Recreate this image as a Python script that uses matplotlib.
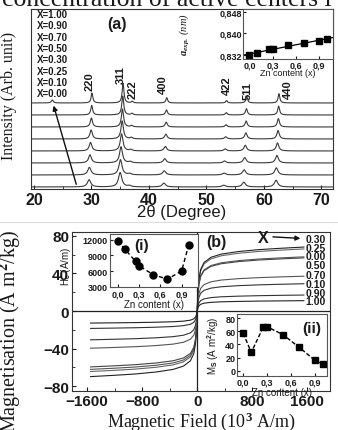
import numpy as np
import matplotlib
matplotlib.use('Agg')
import matplotlib.pyplot as plt
from matplotlib.lines import Line2D

plt.rcParams['font.family'] = 'Liberation Sans'
plt.rcParams['font.weight'] = 'bold'
plt.rcParams['mathtext.fontset'] = 'custom'
plt.rcParams['mathtext.rm'] = 'Liberation Serif:bold'
plt.rcParams['mathtext.bf'] = 'Liberation Serif:bold'
plt.rcParams['mathtext.it'] = 'Liberation Serif:italic'
plt.rcParams['mathtext.sf'] = 'Liberation Sans:bold'

# ---- data: XRD (a) ----
zn = [0.00, 0.10, 0.25, 0.30, 0.50, 0.70, 0.90, 1.00]
zn_labels = ['X=1.00', 'X=0.90', 'X=0.70', 'X=0.50', 'X=0.30', 'X=0.25', 'X=0.10', 'X=0.00']
peak_hkl = ['220', '311', '222', '400', '422', '511', '440']
peak_pos = [30.1, 35.5, 37.1, 43.1, 53.5, 57.0, 62.6]
peak_height = [0.75, 1.5, 0.12, 0.4, 0.18, 0.5, 0.7]
trace_shift = [0.0, -0.05, -0.1, -0.15, -0.25, -0.35, -0.45, -0.5]
trace_width = [0.18, 0.2, 0.22, 0.25, 0.28, 0.3, 0.33, 0.35]
trace_scale = [1.1, 1.05, 1.0, 1.0, 0.95, 0.9, 0.85, 0.8]

# lattice parameter inset
a_exp = [0.8320, 0.8329, 0.8341, 0.8344, 0.8357, 0.8364, 0.8374, 0.8378]

# ---- data: magnetic (b) ----
hc = [11800, 10200, 7850, 7000, 5300, 4450, 6050, 11050]
ms = [57, 28, 66, 67, 55, 36, 16, 10]
ms_pos = [57.6, 29, 66, 68, 56.5, 37, 17, 11]
ms_neg = [-62, -30.6, -64.3, -69.7, -59.4, -39.5, -18.5, -12.8]
h_pts = [0, 10, 25, 50, 100, 200, 350, 600, 900, 1200, 1550]
m_frac = [0, 0.30, 0.50, 0.65, 0.76, 0.84, 0.89, 0.93, 0.96, 0.98, 1.0]
mh_labels = ['0.30', '0.25', '0.00', '0.50', '0.70', '0.10', '0.90', '1.00']
comma_ticks = ['0,0', '0,3', '0,6', '0,9']

W, H = 338, 431
fig = plt.figure(figsize=(3.38, 4.31), dpi=100)


def box(l, t, r, b):
    return [l / W, 1 - b / H, (r - l) / W, (b - t) / H]


ink = '#1a1a1a'

# cut-off caption at the top
fig.text(2 / W, 1 - 6 / H, 'concentration of active centers i', family='Liberation Serif',
         weight='normal', fontsize=18.5, va='baseline', color=ink)
fig.add_artist(Line2D([0, 1], [1 - 223 / H] * 2, color='#dddddd', lw=0.8))

# ---------- panel (a) ----------
ax = fig.add_axes(box(31, 10, 333, 190))
tt = np.linspace(19.5, 72, 2000)
for i in range(len(zn)):
    y = np.zeros_like(tt) + i
    k = 7 - i  # top trace = X=1.00
    for p, h in zip(peak_pos, peak_height):
        w = trace_width[k]
        y += h * trace_scale[k] / (1 + ((tt - p - trace_shift[k]) / w) ** 2)
    if k == 0:
        y += 0.25 / (1 + ((tt - 23.2) / 0.2) ** 2)
    ax.plot(tt, y, color='#3a3a3a', lw=0.8)
ax.set_xlim(19.5, 72)
ax.set_ylim(-0.17, 14.83)
ax.set_yticks([])
ax.set_xticks([20, 30, 40, 50, 60, 70])
ax.set_xticks([25, 35, 45, 55, 65], minor=True)
ax.tick_params(axis='x', which='both', direction='in', labelsize=11.5, pad=2, colors=ink)
ax.tick_params(axis='x', which='major', length=3)
ax.tick_params(axis='x', which='minor', length=2)
ax.set_xlabel('2θ (Degree)', fontsize=12, labelpad=-2, color=ink)
ax.set_ylabel('Intensity (Arb. unit)', family='Liberation Serif', fontsize=11.5, color=ink)
ax.yaxis.set_label_coords(-0.045, 0.52)
for s in ax.spines.values():
    s.set_color('#333333')

for j, lab in enumerate(zn_labels):
    ax.text(20.5, 14.4 - j * 0.94, lab, fontsize=7, va='center', ha='left', color=ink)
ax.annotate('', xy=(23.3, 7.0), xytext=(27.5, 0.0),
            arrowprops=dict(arrowstyle='-|>', color='#111111', lw=1.0, mutation_scale=7))
lab_xy = [(29.76, 8.9), (35.15, 9.4), (37.1, 8.2), (42.5, 8.6), (53.6, 8.5), (57.1, 8.1), (64.2, 8.2)]
for lab, (px, py) in zip(peak_hkl, lab_xy):
    ax.text(px, py, lab, rotation=90, fontsize=8, ha='center', va='center', color=ink)
ax.text(34.5, 13.6, '(a)', fontsize=11.5, ha='center', va='center', color=ink)

# inset lattice parameter
ia = fig.add_axes(box(243.3, 10, 333, 60))
ia.plot(zn, a_exp, 's', color='black', ms=4)
fit = np.polyfit(zn, a_exp, 1)
xf = np.array([-0.08, 1.08])
ia.plot(xf, np.polyval(fit, xf), color='black', lw=0.9)
ia.set_xlim(-0.08, 1.08)
ia.set_ylim(0.8306, 0.849)
ia.set_yticks([0.832, 0.840, 0.848])
ia.set_yticklabels(['0,832', '0,840', '0,848'])
ia.set_xticks([0, 0.3, 0.6, 0.9])
ia.set_xticklabels(comma_ticks)
ia.tick_params(direction='in', labelsize=6.5, length=2, pad=1, colors=ink)
ia.set_xlabel('Zn content (x)', fontsize=6.5, labelpad=-1, color=ink)
ia.set_ylabel(r'$a_{exp.}$ (nm)', family='Liberation Serif', style='italic', weight='normal',
              fontsize=7.5, color=ink)
ia.yaxis.set_label_coords(-0.58, 0.5)
for s in ia.spines.values():
    s.set_color('#555555')

# ---------- panel (b) ----------
bx = fig.add_axes(box(72, 233, 330, 392))
mh_colors = ['#555555', '#333333', '#666666', '#222222', '#444444', '#555555', '#333333', '#222222']
hh = np.array(h_pts, dtype=float)
ff = np.array(m_frac)
for i in range(len(zn)):
    Hs = np.concatenate([-hh[::-1], hh[1:]])
    Ms = np.concatenate([ms_neg[i] * ff[::-1], ms_pos[i] * ff[1:]])
    bx.plot(Hs, Ms, color=mh_colors[i], lw=0.8)
bx.axhline(0, color='#222222', lw=0.9)
bx.axvline(0, color='#222222', lw=0.9)
bx.set_xlim(-1820, 1930)
bx.set_ylim(-85, 84)
bx.set_xticks([-1600, -800, 0, 800, 1600])
bx.set_xticks([-1200, -400, 400, 1200], minor=True)
bx.set_yticks([-80, -40, 0, 40, 80])
bx.set_yticks([-60, -20, 20, 60], minor=True)
bx.tick_params(which='both', direction='in', labelsize=11, colors=ink, pad=2)
bx.tick_params(which='major', length=3)
bx.tick_params(which='minor', length=2)
bx.set_xlabel(r'Magnetic Field (10$^{3}$ A/m)', family='Liberation Serif', fontsize=13,
              labelpad=1, color=ink)
bx.set_ylabel(r'Magnetisation (A m$^{2}$/kg)', family='Liberation Serif', fontsize=14.5, color=ink)
bx.yaxis.set_label_coords(-0.19, 0.38)
for s in bx.spines.values():
    s.set_color('#333333')

lab_y = [76.8, 67.2, 58.7, 49, 38.4, 28.8, 19.2, 10.7]
for lab, yy in zip(mh_labels, lab_y):
    bx.text(1570, yy, lab, fontsize=7.5, va='center', ha='left', color=ink)
bx.text(960, 78.5, 'X', fontsize=11.5, ha='center', va='center', color=ink)
bx.annotate('', xy=(1540, 77), xytext=(1060, 79),
            arrowprops=dict(arrowstyle='-|>', color='#111111', lw=1.0, mutation_scale=7))
bx.text(276, 73.6, '(b)', fontsize=11.5, ha='center', va='center', color=ink)

# inset (i) coercivity
i1 = fig.add_axes(box(110, 235, 198, 288))
i1.plot(zn, hc, 'o--', color='black', ms=5, lw=1.0, dashes=(3, 2))
i1.set_xlim(-0.11, 1.13)
i1.set_ylim(2950, 13100)
i1.set_yticks([3000, 6000, 9000, 12000])
i1.set_xticks([0, 0.3, 0.6, 0.9])
i1.set_xticklabels(comma_ticks)
i1.tick_params(direction='in', labelsize=6.5, length=2, pad=1.5, colors=ink)
i1.set_xlabel('Zn content (x)', fontsize=7, labelpad=1, color=ink)
i1.set_ylabel(r'H$_\mathsf{c}$ (A/m)', fontsize=7, color=ink)
i1.yaxis.set_label_coords(-0.42, 0.4)
i1.text(0.36, 0.8, '(i)', transform=i1.transAxes, fontsize=11, ha='center', va='center', color=ink)
for s in i1.spines.values():
    s.set_color('#555555')

# inset (ii) saturation magnetisation
i2 = fig.add_axes(box(236.7, 315, 326.7, 377.3))
i2.plot(zn, ms, 's--', color='black', ms=5, lw=1.0, dashes=(3, 1.5))
i2.set_xlim(-0.083, 1.05)
i2.set_ylim(-8.5, 86.5)
i2.set_yticks([0, 20, 40, 60, 80])
i2.set_xticks([0, 0.3, 0.6, 0.9])
i2.set_xticklabels(comma_ticks)
i2.tick_params(direction='in', labelsize=6.5, length=2, pad=1, colors=ink)
i2.set_xlabel('Zn content (x)', fontsize=7, labelpad=0, color=ink)
i2.set_ylabel(r'M$_\mathsf{S}$ (A m$^\mathsf{2}$/kg)', fontsize=7, color=ink)
i2.yaxis.set_label_coords(-0.17, 0.5)
i2.text(0.83, 0.78, '(ii)', transform=i2.transAxes, fontsize=11, ha='center', va='center', color=ink)
for s in i2.spines.values():
    s.set_color('#555555')

fig.savefig('out.png', dpi=100)
